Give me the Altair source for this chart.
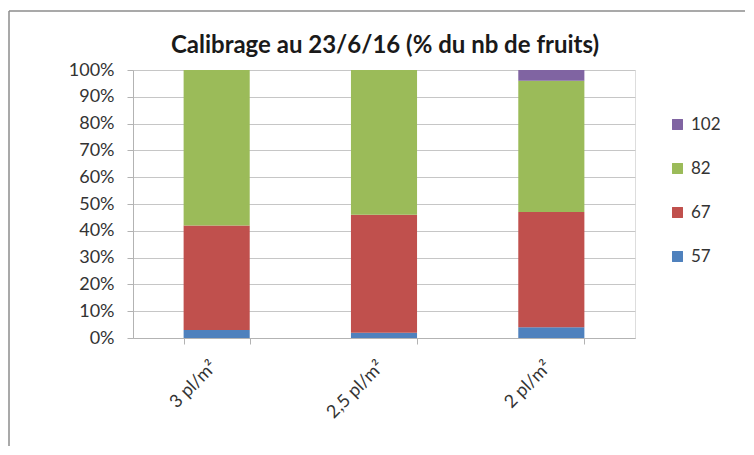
import altair as alt
import pandas as pd

categories = ["3 pl/m²", "2,5 pl/m²", "2 pl/m²"]
series = ["57", "67", "82", "102"]
s57 = [3, 2, 4]
s67 = [39, 44, 43]
s82 = [58, 54, 49]
s102 = [0, 0, 4]
colors = {"57": "#4F81BD", "67": "#C0504D", "82": "#9BBB59", "102": "#8064A2"}
title_text = "Calibrage au 23/6/16 (% du nb de fruits)"

rows = []
for i, c in enumerate(categories):
    for k, (name, vals) in enumerate(zip(series, [s57, s67, s82, s102])):
        rows.append({"cat": c, "serie": name, "ord": k, "val": vals[i] / 100})
df = pd.DataFrame(rows)

legend_order = ["102", "82", "67", "57"]
FONT = "Lato"

bars = alt.Chart(df).mark_bar().encode(
    x=alt.X("cat:N", sort=categories, title=None,
            scale=alt.Scale(paddingInner=0.605, paddingOuter=0.3025),
            axis=alt.Axis(labelAngle=-45, labelAlign="right", labelBaseline="middle",
                          tickBand="extent", tickSize=6, labelPadding=20,
                          labelOffset=-3,
                          labelFontSize=18, labelColor="#333333", labelFont=FONT,
                          domainColor="#b3b3b3", tickColor="#b3b3b3", grid=False)),
    y=alt.Y("val:Q", stack="zero", title=None,
            scale=alt.Scale(domain=[0, 1], nice=False),
            axis=alt.Axis(format=".0%", values=[i / 10 for i in range(11)],
                          tickSize=6, labelPadding=13, labelFontSize=18,
                          labelColor="#333333", labelFont=FONT,
                          gridColor="#c6c6c6", domainColor="#b3b3b3",
                          tickColor="#b3b3b3")),
    color=alt.Color("serie:N",
                    scale=alt.Scale(domain=legend_order,
                                    range=[colors[s] for s in legend_order]),
                    legend=alt.Legend(title=None, orient="none", legendX=536, legendY=46,
                                      symbolType="square", symbolSize=120,
                                      symbolStrokeWidth=0, labelFontSize=17,
                                      labelFont=FONT, labelColor="#333333",
                                      rowPadding=26, labelOffset=5)),
    order=alt.Order("ord:Q", sort="ascending"),
)

title = alt.Chart(alt.Data(values=[{"t": title_text}])).mark_text(
    font=FONT, fontSize=24, fontWeight="bold", color="#1a1a1a",
    align="center", baseline="alphabetic").encode(
    text="t:N", x=alt.value(252), y=alt.value(-17))

frame = alt.Data(values=[{"a": 1}])
left_edge = alt.Chart(frame).mark_rule(color="#8c8c8c", strokeWidth=1.5).encode(
    x=alt.value(-124), y=alt.value(-59), y2=alt.value(420))
top_edge = alt.Chart(frame).mark_rule(color="#8c8c8c", strokeWidth=1.5).encode(
    x=alt.value(-124), x2=alt.value(700), y=alt.value(-59))

chart = alt.layer(bars, title, left_edge, top_edge).properties(
    width=502, height=268,
    autosize=alt.AutoSizeParams(type="none"),
    padding={"left": 125, "top": 62, "right": 110, "bottom": 108},
).configure_view(stroke=None).configure(background="white")

chart.save("out.html", embed_options={"renderer": "svg", "actions": False})
